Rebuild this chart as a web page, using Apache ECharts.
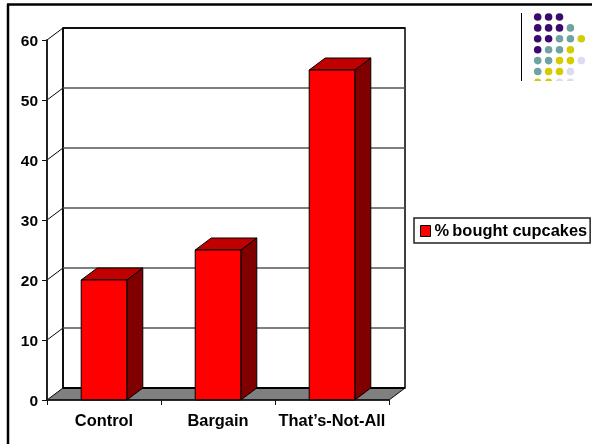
<!DOCTYPE html>
<html>
<head>
<meta charset="utf-8">
<style>
html, body { margin: 0; padding: 0; background: #fff; }
#chart { width: 592px; height: 444px; }
</style>
<script src="https://cdn.jsdelivr.net/npm/echarts@6/dist/echarts.min.js"></script>
</head>
<body>
<div id="chart"></div>
<script>
// Chart content
const categories = ['Control', 'Bargain', 'That\u2019s-Not-All'];
const boughtCupcakes = [20, 25, 55];
const valueTicks = [0, 10, 20, 30, 40, 50, 60];
const seriesName = '%\u2009bought cupcakes';

// Corner ornament: one colour key per dot, row by row
const dotRows = [
  'PPP',
  'PPPT',
  'PPTTY',
  'PTTY',
  'TTYYL',
  'TYYL',
  'YYLL'
];
const dotColours = { P: '#3b0a6e', T: '#6fa3a3', Y: '#d4cc00', L: '#dcdcf0' };

// Oblique offset of the chart's back plane, in pixels
const DEPTH_X = 16;
const DEPTH_Y = -12;
const BAR_RATIO = 0.4;
const FONT = '"Liberation Sans", Arial, sans-serif';

const chart = echarts.init(document.getElementById('chart'), null, { renderer: 'canvas' });

const back = ([x, y]) => [x + DEPTH_X, y + DEPTH_Y];
const poly = (points, style) => ({ type: 'polygon', shape: { points }, style });
const line = (a, b, stroke, lineWidth) => ({
  type: 'line',
  shape: { x1: a[0], y1: a[1], x2: b[0], y2: b[1] },
  style: { stroke, lineWidth, fill: null }
});

// Back wall, side wall, floor and the gridlines that wrap around them
function renderWalls(params, api) {
  const tick = api.value(0);
  const left = params.coordSys.x;
  const right = left + params.coordSys.width;
  const y = api.coord([0, tick])[1];
  const children = [];
  if (tick === 0) {
    const top = api.coord([0, valueTicks[valueTicks.length - 1]])[1];
    children.push(
      poly([back([left, top]), back([right, top]), back([right, y]), back([left, y])],
        { fill: '#fff', stroke: '#000', lineWidth: 1.5 }),
      poly([[left, y], back([left, y]), back([right, y]), [right, y]],
        { fill: '#808080', stroke: '#000', lineWidth: 1 }),
      line(back([left, y]), back([right, y]), '#000', 2),
      line(back([left, top]), back([left, y]), '#000', 1.5)
    );
  } else {
    const isTop = tick === valueTicks[valueTicks.length - 1];
    children.push(
      line([left, y], back([left, y]), '#000', 1),
      line(back([left, y]), back([right, y]), isTop ? '#000' : '#555', 1.5)
    );
  }
  return { type: 'group', children };
}

// Extruded bar: front face, shaded side and top
function renderBar(params, api) {
  const bandWidth = api.size([1, 0])[0];
  const width = bandWidth * BAR_RATIO;
  const base = api.coord([api.value(0), 0]);
  const head = api.coord([api.value(0), api.value(1)]);
  const x0 = base[0] - width / 2;
  const x1 = base[0] + width / 2;
  const outline = { stroke: '#000', lineWidth: 1 };
  return {
    type: 'group',
    children: [
      poly([[x1, head[1]], back([x1, head[1]]), back([x1, base[1]]), [x1, base[1]]],
        { fill: '#800000', ...outline }),
      poly([[x0, head[1]], back([x0, head[1]]), back([x1, head[1]]), [x1, head[1]]],
        { fill: '#c00000', ...outline }),
      poly([[x0, head[1]], [x1, head[1]], [x1, base[1]], [x0, base[1]]],
        { fill: '#ff0000', ...outline })
    ]
  };
}

// Page frame and ornament
const ornament = [
  { type: 'line', shape: { x1: 8, y1: 4, x2: 8, y2: 444 }, style: { stroke: '#000', lineWidth: 2.5 } },
  { type: 'line', shape: { x1: 7, y1: 4.5, x2: 592, y2: 4.5 }, style: { stroke: '#000', lineWidth: 2.5 } },
  { type: 'line', shape: { x1: 521.5, y1: 13, x2: 521.5, y2: 81 }, style: { stroke: '#000', lineWidth: 1 } }
];
const dots = [];
dotRows.forEach((row, r) => {
  [...row].forEach((key, c) => {
    dots.push({
      type: 'circle',
      shape: { cx: 537.7 + c * 10.9, cy: 17 + r * 10.9, r: 3.8 },
      style: { fill: dotColours[key] }
    });
  });
});
ornament.push({
  type: 'group',
  children: dots,
  clipPath: { type: 'rect', shape: { x: 525, y: 10, width: 67, height: 71 } }
});

chart.setOption({
  animation: false,
  backgroundColor: '#fff',
  grid: { left: 47, top: 40, width: 342, height: 360, containLabel: false },
  legend: {
    show: true,
    left: 414,
    top: 218,
    orient: 'horizontal',
    data: [{ name: seriesName, icon: 'rect', itemStyle: { color: '#ff0000', borderColor: '#000', borderWidth: 1 } }],
    itemWidth: 10,
    itemHeight: 11,
    itemGap: 0,
    padding: [5, 3, 4, 6],
    borderColor: '#222',
    borderWidth: 1.5,
    backgroundColor: '#fff',
    selectedMode: false,
    textStyle: { fontFamily: FONT, fontWeight: 'bold', fontSize: 16.4, color: '#000', padding: [0, 0, 0, -1] }
  },
  xAxis: {
    type: 'category',
    data: categories,
    z: 6,
    axisLine: { show: true, lineStyle: { color: '#111', width: 1.5 } },
    axisTick: { show: true, length: 5, alignWithLabel: false, lineStyle: { color: '#111', width: 1 } },
    axisLabel: { margin: 13, interval: 0, fontFamily: FONT, fontWeight: 'bold', fontSize: 16.4, color: '#000' },
    splitLine: { show: false }
  },
  yAxis: {
    type: 'value',
    min: 0,
    max: 60,
    interval: 10,
    z: 6,
    axisLine: { show: true, lineStyle: { color: '#222', width: 2 } },
    axisTick: { show: true, length: 5, lineStyle: { color: '#111', width: 1 } },
    axisLabel: { margin: 9, verticalAlign: 'top', lineHeight: 3, fontFamily: FONT, fontWeight: 'bold', fontSize: 15.5, color: '#000' },
    splitLine: { show: false }
  },
  series: [
    {
      name: 'walls',
      type: 'custom',
      renderItem: renderWalls,
      data: valueTicks.map(v => [v]),
      encode: { y: 0 },
      z: 1,
      silent: true,
      clip: false
    },
    {
      name: seriesName,
      type: 'custom',
      renderItem: renderBar,
      data: boughtCupcakes.map((v, i) => [i, v]),
      encode: { x: 0, y: 1 },
      itemStyle: { color: '#ff0000' },
      z: 3,
      clip: false
    }
  ],
  graphic: { elements: ornament }
});
</script>
</body>
</html>
